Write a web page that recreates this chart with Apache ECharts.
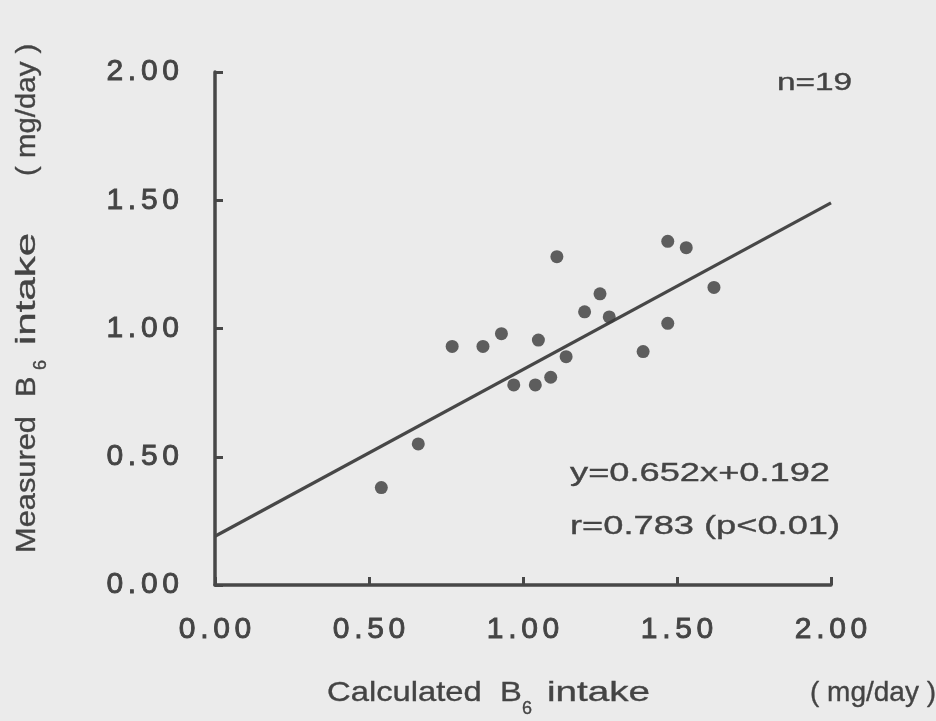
<!DOCTYPE html>
<html>
<head>
<meta charset="utf-8">
<script src="https://cdn.jsdelivr.net/npm/echarts@6/dist/echarts.min.js"></script>
<style>
  html, body { margin: 0; padding: 0; background: #ebebeb; }
  #chart { width: 936px; height: 721px; }
</style>
</head>
<body>
<div id="chart"></div>
<script>
// ---- data ----
const calcIntake = [0.54, 0.66, 0.77, 0.87, 0.93, 0.97, 1.04, 1.05, 1.09, 1.11, 1.14, 1.20, 1.25, 1.28, 1.39, 1.47, 1.47, 1.53, 1.62];
const measIntake = [0.38, 0.55, 0.93, 0.93, 0.98, 0.78, 0.78, 0.955, 0.81, 1.28, 0.89, 1.065, 1.135, 1.045, 0.91, 1.02, 1.34, 1.315, 1.16];
const fitX = [0, 2];
const fitY = [0.19, 1.49];
const tickValues = [0, 0.5, 1, 1.5, 2];
const countText = 'n=19';
const eqText = 'y=0.652x+0.192';
const corrText = 'r=0.783 (p<0.01)';
const xTitleMain = 'Calculated  B';
const titleWord = 'intake';
const unitText = '( mg/day )';
const yTitleWord1 = 'Measured';
const bText = 'B';
const subText = '6';

const FONT = '"Liberation Sans", Arial, Helvetica, sans-serif';
const INK = '#474747';
const TXT = '#444444';
const BOLDEN = 0.9;
const BOLDEN_G = 0.35;

function spaced(str) {
  return str.split('').map(ch => '{a|' + ch + '}').join('{s| }');
}
const labelRich = {
  a: { fontSize: 30, fontFamily: FONT, color: TXT, textBorderColor: TXT, textBorderWidth: BOLDEN },
  s: { fontSize: 17, fontFamily: FONT, color: TXT }
};

const chart = echarts.init(document.getElementById('chart'));

function txt(x, y, text, size, opts) {
  opts = opts || {};
  return {
    type: 'text',
    x: x, y: y,
    rotation: opts.rotation || 0,
    scaleX: opts.scaleX || 1,
    z: 100,
    style: {
      text: text,
      fontSize: size,
      fontFamily: FONT,
      fill: TXT,
      stroke: TXT,
      lineWidth: BOLDEN_G,
      align: opts.align || 'left',
      verticalAlign: 'middle',
      textAlign: opts.align || 'left',
      textVerticalAlign: 'middle'
    }
  };
}

const R = Math.PI / 2;
const option = {
  backgroundColor: '#ebebeb',
  animation: false,
  grid: { left: 215, right: 105, top: 72, bottom: 136, containLabel: false },
  xAxis: {
    type: 'value',
    min: tickValues[0],
    max: tickValues[tickValues.length - 1],
    interval: 0.5,
    axisLine: { show: true, lineStyle: { color: INK, width: 3.5 } },
    axisTick: { show: true, inside: true, length: 8, lineStyle: { color: INK, width: 3 } },
    splitLine: { show: false },
    axisLabel: {
      margin: 30,
      formatter: v => spaced(v.toFixed(2)),
      rich: labelRich
    }
  },
  yAxis: {
    type: 'value',
    min: tickValues[0],
    max: tickValues[tickValues.length - 1],
    interval: 0.5,
    axisLine: { show: true, lineStyle: { color: INK, width: 3.5 } },
    axisTick: { show: true, inside: true, length: 8, lineStyle: { color: INK, width: 3 } },
    splitLine: { show: false },
    axisLabel: {
      margin: 36,
      formatter: v => spaced(v.toFixed(2)),
      rich: labelRich
    }
  },
  series: [
    {
      type: 'line',
      data: fitX.map((x, i) => [x, fitY[i]]),
      showSymbol: false,
      symbol: 'none',
      lineStyle: { color: INK, width: 3.2 },
      z: 2
    },
    {
      type: 'scatter',
      data: calcIntake.map((x, i) => [x, measIntake[i]]),
      symbol: 'circle',
      symbolSize: 13,
      itemStyle: { color: '#3a3a3a' },
      z: 3
    }
  ],
  graphic: [
    txt(852, 84, countText, 23, { align: 'right', scaleX: 1.45 }),
    txt(570, 474, eqText, 25, { scaleX: 1.45 }),
    txt(570, 527, corrText, 25, { scaleX: 1.45 }),
    txt(327, 693, xTitleMain, 28, { scaleX: 1.17 }),
    txt(522, 709, subText, 18, {}),
    txt(547, 693, titleWord, 28, { scaleX: 1.38 }),
    txt(936, 693, unitText, 28, { align: 'right' }),
    txt(27, 553, yTitleWord1, 28, { rotation: R, scaleX: 1.1 }),
    txt(27, 397, bText, 28, { rotation: R, scaleX: 1.1 }),
    txt(41, 370, subText, 18, { rotation: R }),
    txt(27, 345, titleWord, 28, { rotation: R, scaleX: 1.5 }),
    txt(27, 176, unitText, 28, { rotation: R, scaleX: 1.05 })
  ]
};
chart.setOption(option);
</script>
</body>
</html>
